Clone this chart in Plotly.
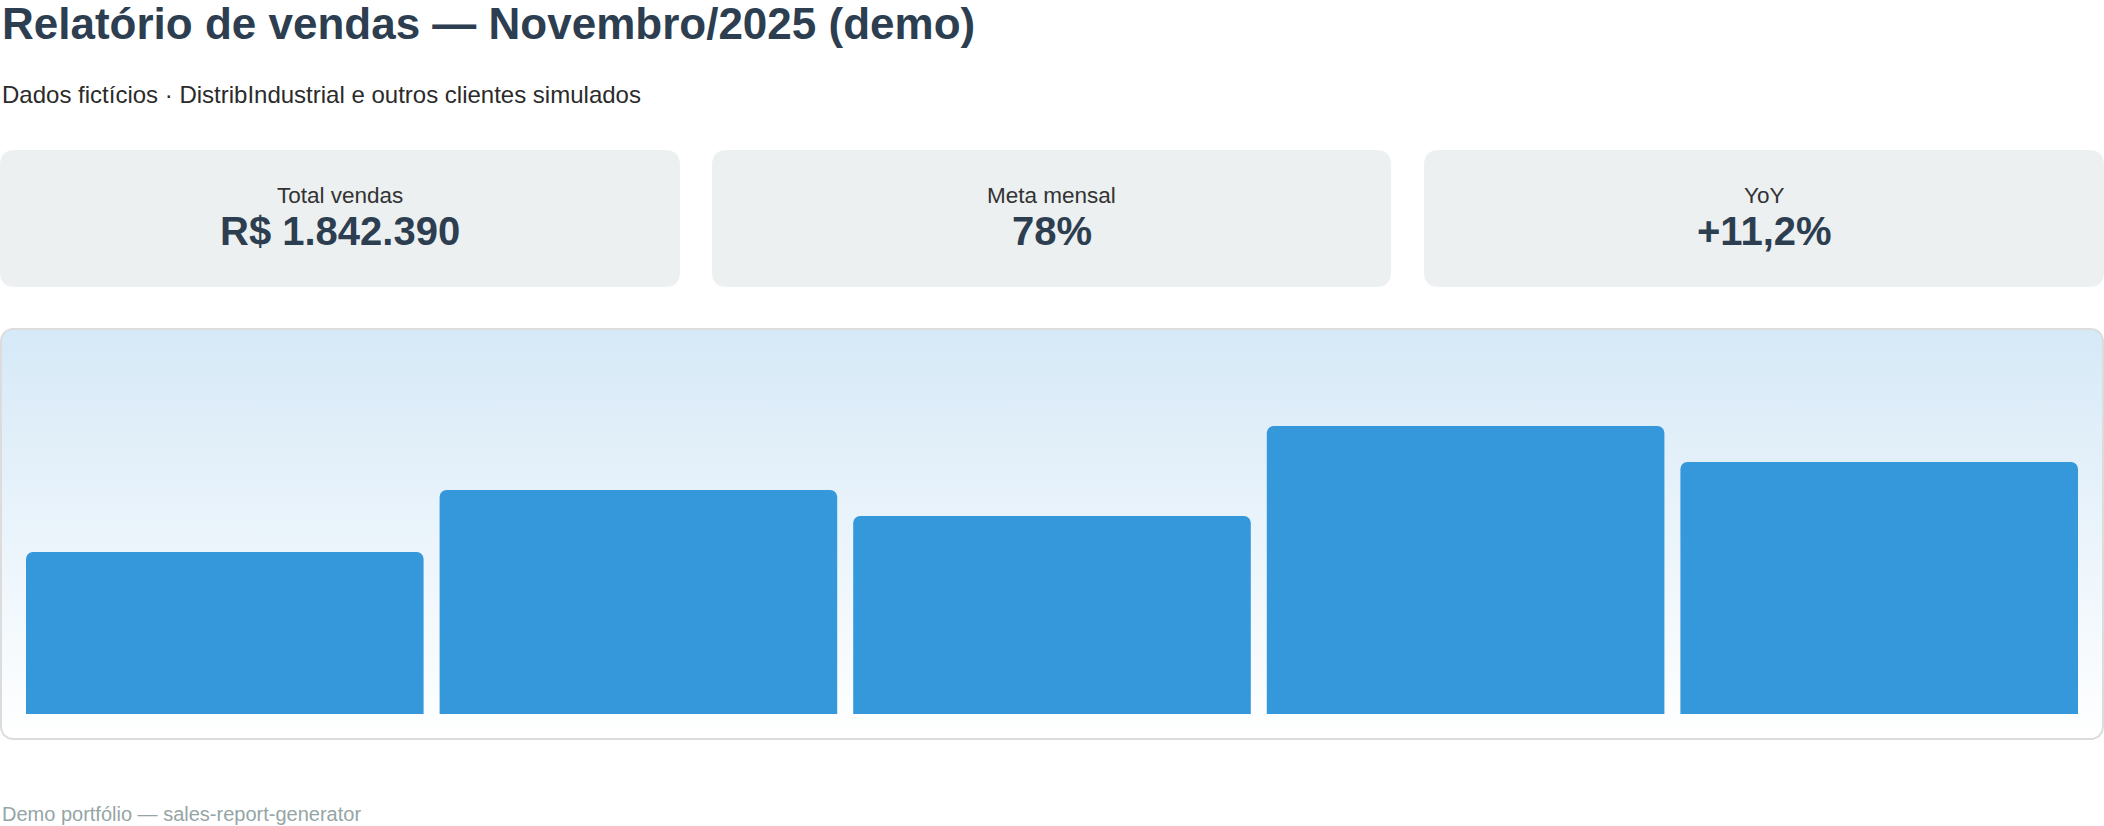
import numpy as np
import plotly.graph_objects as go

# Valores (dados fictícios)
clientes = ["DistribIndustrial", "Cliente B", "Cliente C", "Cliente D", "Cliente E"]
vendas = [265500, 367200, 324500, 472100, 413090]

kpi_labels = ["Total vendas", "Meta mensal", "YoY"]
kpi_values = ["R$ 1.842.390", "78%", "+11,2%"]

titulo = "Relatório de vendas — Novembro/2025 (demo)"
subtitulo = "Dados fictícios · DistribIndustrial e outros clientes simulados"
rodape = "Demo portfólio — sales-report-generator"

# page size (px); positions below are measured on the page
REF_W, REF_H = 2104, 826
W, H = REF_W, REF_H
FONT = "Liberation Sans, Arial, Helvetica, sans-serif"
DARK = "#2c3e50"
BLUE = "#3498db"


def px(x):
    return x / REF_W


def py(y):
    return 1 - y / REF_H


def rounded_path(x0, y0, x1, y1, r):
    # svg path for a rounded box, in paper coords (y measured from the top in page px)
    return (f"M{px(x0 + r)},{py(y0)} L{px(x1 - r)},{py(y0)} Q{px(x1)},{py(y0)} {px(x1)},{py(y0 + r)} "
            f"L{px(x1)},{py(y1 - r)} Q{px(x1)},{py(y1)} {px(x1 - r)},{py(y1)} "
            f"L{px(x0 + r)},{py(y1)} Q{px(x0)},{py(y1)} {px(x0)},{py(y1 - r)} "
            f"L{px(x0)},{py(y0 + r)} Q{px(x0)},{py(y0)} {px(x0 + r)},{py(y0)} Z")


def rounded_rect_xy(x0, y0, x1, y1, r, n=14):
    xs, ys = [], []
    corners = [(x1 - r, y0 + r, -90, 0), (x1 - r, y1 - r, 0, 90),
               (x0 + r, y1 - r, 90, 180), (x0 + r, y0 + r, 180, 270)]
    for cx, cy, a0, a1 in corners:
        for a in np.linspace(np.radians(a0), np.radians(a1), n):
            xs.append(cx + r * np.cos(a))
            ys.append(cy + r * np.sin(a))
    xs.append(xs[0])
    ys.append(ys[0])
    return xs, ys


fig = go.Figure()

# chart panel background (vertical gradient, light blue -> white)
bx, by = rounded_rect_xy(1, 329, 2103, 739, 12)
fig.add_trace(go.Scatter(
    x=bx, y=by, mode="lines", fill="toself",
    fillgradient=dict(type="vertical", colorscale=[[0, "#ffffff"], [1, "#d6e9f7"]]),
    line=dict(color="#dcdcdc", width=2),
    hoverinfo="skip", showlegend=False, xaxis="x", yaxis="y",
))

# sales bars
fig.add_trace(go.Bar(
    x=clientes, y=vendas, marker=dict(color=BLUE, cornerradius=7, line=dict(width=0)),
    showlegend=False, xaxis="x2", yaxis="y2",
    hovertemplate="%{x}<br>R$ %{y:,.0f}<extra></extra>",
))

# KPI cards
card_x = [(0, 680), (712, 1391), (1424, 2104)]
shapes = []
annotations = []
for (x0, x1), lab, val in zip(card_x, kpi_labels, kpi_values):
    shapes.append(dict(type="path", xref="paper", yref="paper", path=rounded_path(x0, 150, x1, 287, 15),
                       fillcolor="#ecf0f1", line=dict(width=0), layer="below"))
    cx = (x0 + x1) / 2
    annotations.append(dict(x=px(cx), y=py(195), xref="paper", yref="paper", text=lab, showarrow=False,
                            xanchor="center", yanchor="middle",
                            font=dict(family=FONT, size=22.5, color="#333333")))
    annotations.append(dict(x=px(cx), y=py(231), xref="paper", yref="paper", text=val, showarrow=False,
                            xanchor="center", yanchor="middle",
                            font=dict(family=FONT, size=40, color=DARK, weight="bold")))

annotations.append(dict(x=0, y=py(24), xref="paper", yref="paper", text=titulo, showarrow=False,
                        xanchor="left", yanchor="middle",
                        font=dict(family=FONT, size=44, color=DARK, weight="bold")))
annotations.append(dict(x=0, y=py(95), xref="paper", yref="paper", text=subtitulo, showarrow=False,
                        xanchor="left", yanchor="middle",
                        font=dict(family=FONT, size=24, color="#2b2b2b")))
annotations.append(dict(x=0, y=py(814), xref="paper", yref="paper", text=rodape, showarrow=False,
                        xanchor="left", yanchor="middle",
                        font=dict(family=FONT, size=20, color="#95a5a6")))

hidden = dict(visible=False, showgrid=False, zeroline=False, fixedrange=True)
fig.update_layout(
    width=W, height=H,
    margin=dict(l=0, r=0, t=0, b=0),
    paper_bgcolor="white", plot_bgcolor="rgba(0,0,0,0)",
    font=dict(family=FONT),
    xaxis=dict(domain=[0, 1], range=[0, 2104], **hidden),
    yaxis=dict(domain=[py(741), py(327)], range=[741, 327], **hidden),
    xaxis2=dict(domain=[px(18), px(2086)], range=[-0.5, 4.5], anchor="y2", **hidden),
    yaxis2=dict(domain=[py(714), py(345)], range=[0, 604800], anchor="x2", **hidden),
    bargap=0.0387,
    shapes=shapes,
    annotations=annotations,
    hovermode="closest",
)

# the page body has a default 8px margin; drop it so the figure fills the window
fig.write_html("out.html", config={"displayModeBar": False},
               post_script="document.body.style.margin='0';")
